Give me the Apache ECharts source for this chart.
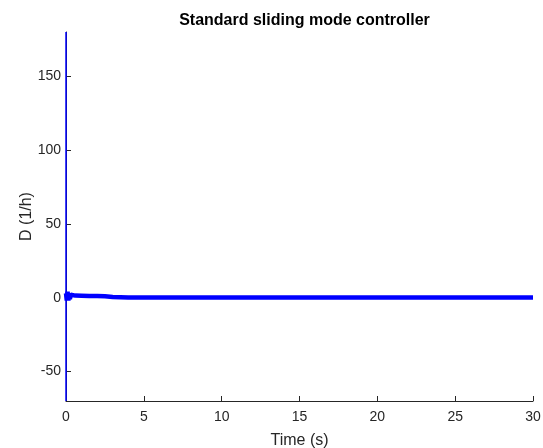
<!DOCTYPE html>
<html>
<head>
<meta charset="utf-8">
<script src="https://cdn.jsdelivr.net/npm/echarts@6/dist/echarts.min.js"></script>
<style>html,body{margin:0;padding:0;background:#fff}#c{width:543px;height:448px}</style>
</head>
<body>
<div id="c"></div>
<script>
var title = 'Standard sliding mode controller';
var xName = 'Time (s)';
var yName = 'D (1/h)';
var yTicks = [-50, 0, 50, 100, 150];
// initial spike at t = 0 (clipped by the axis range)
var spikeT = [0, 0, 0];
var spikeD = [180, -70, 0];
// chattering control signal after the spike
var chatT = [0, 0.05, 0.1, 0.15, 0.2, 0.25, 0.3, 0.4, 0.6, 1.0, 1.5, 2.0, 2.5, 3.0, 4.0, 6.0, 10, 15, 20, 25, 30];
var chatD = [3, -2, 4, -2, 3, -1, 2, 1.2, 1.4, 1.3, 1.1, 1.2, 0.9, 0.5, 0.2, 0.1, 0.1, 0.1, 0.1, 0.1, 0.1];

function pairs(a, b) { return a.map(function (v, i) { return [v, b[i]]; }); }

var axisColor = '#262626';
var font = 'Liberation Sans, Arial, sans-serif';
var chart = echarts.init(document.getElementById('c'));
chart.setOption({
  animation: false,
  title: {
    text: title, left: 299.5, textAlign: 'center', top: 8,
    textStyle: { fontSize: 16, fontWeight: 'bold', color: '#000', fontFamily: font }
  },
  grid: { left: 66, right: 10, top: 32, bottom: 47, containLabel: false, outerBoundsMode: 'none' },
  xAxis: {
    type: 'value', min: 0, max: 30, interval: 5,
    name: xName, nameLocation: 'middle', nameGap: 32, nameMoveOverlap: false,
    nameTextStyle: { fontSize: 16, color: axisColor, fontFamily: font },
    axisLine: { show: true, onZero: false, lineStyle: { color: axisColor, width: 1 } },
    axisTick: { show: true, inside: true, length: 5, lineStyle: { color: axisColor } },
    axisLabel: { fontSize: 14, color: axisColor, margin: 9, fontFamily: font },
    splitLine: { show: false }
  },
  yAxis: {
    type: 'value', min: -70, max: 180,
    name: yName, nameLocation: 'middle', nameGap: 31, nameMoveOverlap: false,
    nameTextStyle: { fontSize: 16, color: axisColor, fontFamily: font },
    axisLine: { show: true, onZero: false, lineStyle: { color: axisColor, width: 1 } },
    axisTick: { show: true, inside: true, length: 5, customValues: yTicks, lineStyle: { color: axisColor } },
    axisLabel: { fontSize: 14, color: axisColor, margin: 5, customValues: yTicks, fontFamily: font },
    splitLine: { show: false }
  },
  series: [
    {
      type: 'line', data: pairs(spikeT, spikeD), showSymbol: false, symbol: 'none',
      lineStyle: { color: '#0000ff', width: 1.5 }, clip: true
    },
    {
      type: 'line', data: pairs(chatT, chatD), showSymbol: false, symbol: 'none',
      lineStyle: { color: '#0000ff', width: 4.5 }, clip: true
    }
  ]
});
</script>
</body>
</html>
